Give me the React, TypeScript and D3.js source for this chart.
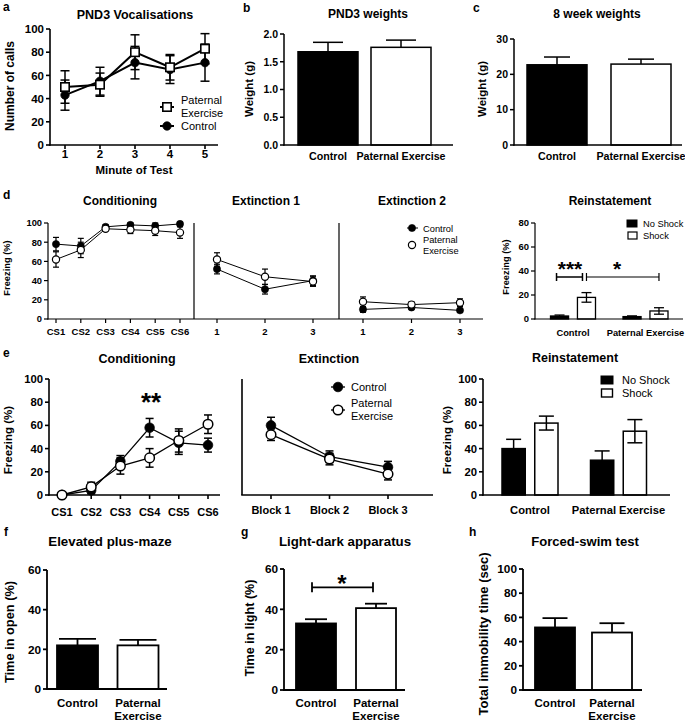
import React from "react";
import * as d3 from "d3";

const FONT = "'Liberation Sans', Arial, Helvetica, sans-serif";

// ---------- DATA ----------
// a: PND3 vocalisations
const minutes = ["1", "2", "3", "4", "5"];
const vocPaternal = [50, 52, 80, 67, 83];
const vocPaternalErr = [14, 10, 15, 11, 13];
const vocControl = [43, 55, 71, 65, 71];
const vocControlErr = [13, 12, 14, 12, 16];
const ticksA = [0, 20, 40, 60, 80, 100];

// groups
const groups2 = ["Control", "Paternal Exercise"];
const shockKeys = ["No Shock", "Shock"];

// b: PND3 weights
const pndWeights = [1.68, 1.76];
const pndWeightsErr = [0.17, 0.13];
const ticksB = [0, 0.5, 1.0, 1.5, 2.0];

// c: 8 week weights
const wk8Weights = [22.7, 22.9];
const wk8WeightsErr = [2.2, 1.4];
const ticksC = [0, 10, 20, 30];

// d: conditioning / extinction 1 / extinction 2
const csLabels = ["CS1", "CS2", "CS3", "CS4", "CS5", "CS6"];
const dCondControl = [78, 76, 96, 98, 97, 99];
const dCondControlErr = [7, 8, 2, 2, 3, 2];
const dCondPaternal = [62, 72, 94, 93, 92, 90];
const dCondPaternalErr = [8, 8, 2, 4, 5, 6];
const extLabels = ["1", "2", "3"];
const dExt1Control = [52, 31, 40];
const dExt1ControlErr = [5, 5, 5];
const dExt1Paternal = [62, 44, 39];
const dExt1PaternalErr = [7, 8, 5];
const dExt2Control = [10, 12, 9];
const dExt2ControlErr = [3, 2, 2];
const dExt2Paternal = [18, 15, 17];
const dExt2PaternalErr = [5, 3, 4];
const ticksD = [0, 20, 40, 60, 80, 100];

// d: reinstatement
const dReinNoShock = [2.5, 2];
const dReinNoShockErr = [0.8, 0.6];
const dReinShock = [18, 6.7];
const dReinShockErr = [4, 2.7];
const ticksDR = [0, 20, 40, 60, 80];

// e: conditioning / extinction
const eCondControl = [0, 4, 29, 58, 45, 43];
const eCondControlErr = [0.5, 3, 5, 8, 10, 6];
const eCondPaternal = [0, 7, 25, 32, 47, 61];
const eCondPaternalErr = [0.5, 4, 7, 8, 10, 8];
const blockLabels = ["Block 1", "Block 2", "Block 3"];
const eExtControl = [60, 33, 24];
const eExtControlErr = [7, 5, 5];
const eExtPaternal = [52, 31, 18];
const eExtPaternalErr = [5, 5, 5];
const ticksE = [0, 20, 40, 60, 80, 100];

// e: reinstatement
const eReinNoShock = [40, 30];
const eReinNoShockErr = [8, 8];
const eReinShock = [62, 55];
const eReinShockErr = [6, 10];

// f, g, h
const epmOpen = [22, 22];
const epmOpenErr = [3.3, 2.8];
const ldLight = [33, 40.6];
const ldLightErr = [2.1, 2.2];
const fstImmobility = [51.7, 47.5];
const fstImmobilityErr = [7.7, 7.7];
const ticks60 = [0, 20, 40, 60];
const ticks100 = [0, 20, 40, 60, 80, 100];

// ---------- HELPERS ----------
type Lin = d3.ScaleLinear<number, number>;

function YAxis({ x, y, ticks, fs, fmt, sw = 1.5, len = 4, labels = true }: any) {
  const [d0, d1] = y.domain();
  const f = fmt || ((v: number) => String(v));
  return (
    <g>
      <line x1={x} x2={x} y1={y(d0) + sw / 2} y2={y(d1)} stroke="#000" strokeWidth={sw} />
      {ticks.map((t: number) => (
        <g key={t}>
          <line x1={x - len} x2={x} y1={y(t)} y2={y(t)} stroke="#000" strokeWidth={sw} />
          {labels && (
            <text x={x - len - 2} y={y(t)} dy="0.36em" textAnchor="end" fontSize={fs} fontWeight="bold">
              {f(t)}
            </text>
          )}
        </g>
      ))}
    </g>
  );
}

function XAxis({ y, x0, x1, pos, labels, fs, labelY, sw = 1.5, len = 4, bold = true, lineGap }: any) {
  const gap = lineGap || fs;
  return (
    <g>
      <line x1={x0 - sw / 2} x2={x1} y1={y} y2={y} stroke="#000" strokeWidth={sw} />
      {pos.map((p: number, i: number) => (
        <g key={i}>
          <line x1={p} x2={p} y1={y} y2={y + len} stroke="#000" strokeWidth={sw} />
          {labels &&
            (Array.isArray(labels[i]) ? labels[i] : [labels[i]]).map((l: string, j: number) => (
              <text key={j} x={p} y={labelY + j * gap} textAnchor="middle" fontSize={fs} fontWeight={bold ? "bold" : "normal"}>
                {l}
              </text>
            ))}
        </g>
      ))}
    </g>
  );
}

function ErrBar({ x, y, v, e, cap, sw = 1.3, lower = true }: any) {
  const top = y(v + e);
  const bot = lower ? y(v - e) : y(v);
  return (
    <g stroke="#000" strokeWidth={sw}>
      <line x1={x} x2={x} y1={top} y2={bot} />
      <line x1={x - cap / 2} x2={x + cap / 2} y1={top} y2={top} />
      {lower && <line x1={x - cap / 2} x2={x + cap / 2} y1={bot} y2={bot} />}
    </g>
  );
}

function Marker({ x, y, kind, r, sw }: any) {
  if (kind === "square")
    return <rect x={x - r} y={y - r} width={2 * r} height={2 * r} fill="#fff" stroke="#000" strokeWidth={sw} />;
  if (kind === "ocircle") return <circle cx={x} cy={y} r={r} fill="#fff" stroke="#000" strokeWidth={sw} />;
  return <circle cx={x} cy={y} r={r} fill="#000" stroke="#000" strokeWidth={sw * 0.5} />;
}

function Series({ xs, y, series, r, sw, msw, cap, esw }: any) {
  return (
    <g>
      {series.map((s: any, k: number) => (
        <g key={"e" + k}>
          {s.values.map((v: number, i: number) => (
            <ErrBar key={i} x={xs[i]} y={y} v={v} e={s.errs[i]} cap={cap} sw={esw} />
          ))}
        </g>
      ))}
      {series.map((s: any, k: number) => (
        <path
          key={"l" + k}
          d={d3.line()(s.values.map((v: number, i: number) => [xs[i], y(v)]) as any) || ""}
          fill="none"
          stroke="#000"
          strokeWidth={sw}
        />
      ))}
      {series.map((s: any, k: number) => (
        <g key={"m" + k}>
          {s.values.map((v: number, i: number) => (
            <Marker key={i} x={xs[i]} y={y(v)} kind={s.kind} r={r} sw={msw} />
          ))}
        </g>
      ))}
    </g>
  );
}

function Bars({ xs, y, values, errs, fills, width, cap, sw = 1.5, lowerFor }: any) {
  return (
    <g>
      {values.map((v: number, i: number) => (
        <g key={i}>
          <rect
            x={xs[i] - width / 2}
            y={y(v)}
            width={width}
            height={y(y.domain()[0]) - y(v)}
            fill={fills[i]}
            stroke="#000"
            strokeWidth={sw}
          />
          <ErrBar x={xs[i]} y={y} v={v} e={errs[i]} cap={cap} sw={sw} lower={lowerFor ? lowerFor[i] : false} />
        </g>
      ))}
    </g>
  );
}

function YTitle({ x, y, text, fs, bold = true }: any) {
  return (
    <text transform={`translate(${x},${y}) rotate(-90)`} textAnchor="middle" fontSize={fs} fontWeight={bold ? "bold" : "normal"}>
      {text}
    </text>
  );
}

function Title({ x, y, text, fs }: any) {
  return (
    <text x={x} y={y} textAnchor="middle" fontSize={fs} fontWeight="bold">
      {text}
    </text>
  );
}

function Letter({ x, y, t }: any) {
  return (
    <text x={x} y={y} fontSize={12} fontWeight="bold">
      {t}
    </text>
  );
}

function SigBar({ x1, x2, y, sw = 1.5, tick = 4 }: any) {
  return (
    <g stroke="#000" strokeWidth={sw}>
      <line x1={x1} x2={x2} y1={y} y2={y} />
      <line x1={x1} x2={x1} y1={y - tick} y2={y + tick} />
      <line x1={x2} x2={x2} y1={y - tick} y2={y + tick} />
    </g>
  );
}

// ---------- PANELS ----------
function PanelA() {
  const y: Lin = d3.scaleLinear().domain([0, 100]).range([145, 29]);
  const x = d3.scalePoint().domain(minutes).range([65, 205]);
  const xs = minutes.map((m) => x(m) as number);
  return (
    <g>
      <Letter x={3} y={11} t="a" />
      <Title x={135} y={19} text="PND3 Vocalisations" fs={12.5} />
      <YAxis x={50} y={y} ticks={ticksA} fs={11.5} sw={1.6} len={4} />
      <XAxis y={145} x0={50} x1={218} pos={xs} labels={minutes} fs={11.5} labelY={158} sw={1.6} />
      <text x={134} y={174} textAnchor="middle" fontSize={11.5} fontWeight="bold">Minute of Test</text>
      <YTitle x={14} y={86} text="Number of calls" fs={12} />
      <Series
        xs={xs}
        y={y}
        r={4.2}
        sw={2}
        msw={1.6}
        cap={9}
        esw={1.5}
        series={[
          { values: vocControl, errs: vocControlErr, kind: "circle" },
          { values: vocPaternal, errs: vocPaternalErr, kind: "square" },
        ]}
      />
      {/* legend */}
      <line x1={160} x2={174} y1={107} y2={107} stroke="#000" strokeWidth={2} />
      <Marker x={167} y={107} kind="square" r={4.2} sw={1.6} />
      <line x1={160} x2={174} y1={126} y2={126} stroke="#000" strokeWidth={2} />
      <Marker x={167} y={126} kind="circle" r={4.2} sw={1.6} />
      <text x={181} y={104} fontSize={11}>Paternal</text>
      <text x={181} y={117} fontSize={11}>Exercise</text>
      <text x={181} y={130} fontSize={11}>Control</text>
    </g>
  );
}

function PanelB() {
  const y: Lin = d3.scaleLinear().domain([0, 2]).range([145, 34]);
  const x = d3.scalePoint().domain(groups2).range([328, 401]);
  const xs = groups2.map((g) => x(g) as number);
  return (
    <g>
      <Letter x={243} y={12} t="b" />
      <Title x={368} y={18} text="PND3 weights" fs={12} />
      <Bars xs={xs} y={y} values={pndWeights} errs={pndWeightsErr} fills={["#000", "#fff"]} width={60} cap={30} sw={1.5} />
      <YAxis x={284} y={y} ticks={ticksB} fs={10.5} fmt={d3.format(".1f")} sw={1.5} len={4} />
      <XAxis y={145} x0={284} x1={453} pos={xs} labels={groups2} fs={10.7} labelY={160} sw={1.5} len={0} />
      <YTitle x={253} y={89} text="Weight (g)" fs={11.5} />
    </g>
  );
}

function PanelC() {
  const y: Lin = d3.scaleLinear().domain([0, 30]).range([145, 39]);
  const x = d3.scalePoint().domain(groups2).range([557, 641]);
  const xs = groups2.map((g) => x(g) as number);
  return (
    <g>
      <Letter x={473} y={12} t="c" />
      <Title x={597} y={18} text="8 week weights" fs={12} />
      <Bars xs={xs} y={y} values={wk8Weights} errs={wk8WeightsErr} fills={["#000", "#fff"]} width={60} cap={26} sw={1.5} />
      <YAxis x={514} y={y} ticks={ticksC} fs={10.5} sw={1.5} len={4} />
      <XAxis y={145} x0={514} x1={682} pos={xs} labels={groups2} fs={10.7} labelY={160} sw={1.5} len={0} />
      <YTitle x={486} y={89} text="Weight (g)" fs={11.5} />
    </g>
  );
}

function PanelD() {
  const y: Lin = d3.scaleLinear().domain([0, 100]).range([319, 223]);
  const xc = d3.scalePoint().domain(csLabels).range([56, 180]);
  const x1 = d3.scalePoint().domain(extLabels).range([217, 313]);
  const x2 = d3.scalePoint().domain(extLabels).range([363, 460]);
  const xsC = csLabels.map((c) => xc(c) as number);
  const xs1 = extLabels.map((c) => x1(c) as number);
  const xs2 = extLabels.map((c) => x2(c) as number);
  const common = { y, r: 3.6, sw: 1, msw: 1.2, cap: 6, esw: 1.2 };
  return (
    <g>
      <Letter x={3} y={199} t="d" />
      <Title x={120} y={205} text="Conditioning" fs={12} />
      <Title x={266} y={205} text="Extinction 1" fs={12} />
      <Title x={412} y={205} text="Extinction 2" fs={12} />
      <YAxis x={48} y={y} ticks={ticksD} fs={9.3} sw={1.2} len={4} />
      <XAxis y={319} x0={48} x1={483} pos={[...xsC, ...xs1, ...xs2]} labels={[...csLabels, ...extLabels, ...extLabels]} fs={9.5} labelY={335} sw={1.2} len={4} />
      <line x1={194} x2={194} y1={223} y2={319} stroke="#000" strokeWidth={1.2} />
      <line x1={339} x2={339} y1={223} y2={319} stroke="#000" strokeWidth={1.2} />
      <YTitle x={10} y={268} text="Freezing (%)" fs={9.3} />
      <Series xs={xsC} {...common} series={[
        { values: dCondControl, errs: dCondControlErr, kind: "circle" },
        { values: dCondPaternal, errs: dCondPaternalErr, kind: "ocircle" },
      ]} />
      <Series xs={xs1} {...common} series={[
        { values: dExt1Control, errs: dExt1ControlErr, kind: "circle" },
        { values: dExt1Paternal, errs: dExt1PaternalErr, kind: "ocircle" },
      ]} />
      <Series xs={xs2} {...common} series={[
        { values: dExt2Control, errs: dExt2ControlErr, kind: "circle" },
        { values: dExt2Paternal, errs: dExt2PaternalErr, kind: "ocircle" },
      ]} />
      {/* legend */}
      <line x1={407} x2={418} y1={228} y2={228} stroke="#000" strokeWidth={1} />
      <Marker x={412} y={228} kind="circle" r={3.6} sw={1.2} />
      <Marker x={412} y={245} kind="ocircle" r={3.6} sw={1.2} />
      <text x={423} y={231.5} fontSize={9.3}>Control</text>
      <text x={423} y={243} fontSize={9.3}>Paternal</text>
      <text x={423} y={254} fontSize={9.3}>Exercise</text>
    </g>
  );
}

function PanelDR() {
  const y: Lin = d3.scaleLinear().domain([0, 80]).range([319, 223]);
  const xg = d3.scalePoint().domain(groups2).range([573, 645.5]);
  const xk = d3.scaleBand().domain(shockKeys).range([-22.5, 22.5]).paddingInner(0.33);
  const bw = xk.bandwidth();
  const cx = (g: string, k: string) => (xg(g) as number) + (xk(k) as number) + bw / 2;
  const xsNo = groups2.map((g) => cx(g, "No Shock"));
  const xsSh = groups2.map((g) => cx(g, "Shock"));
  const gpos = groups2.map((g) => xg(g) as number);
  return (
    <g>
      <Title x={610} y={205} text="Reinstatement" fs={12} />
      <Bars xs={xsNo} y={y} values={dReinNoShock} errs={dReinNoShockErr} fills={["#000", "#000"]} width={bw} cap={10} sw={1.3} lowerFor={[true, true]} />
      <Bars xs={xsSh} y={y} values={dReinShock} errs={dReinShockErr} fills={["#fff", "#fff"]} width={bw} cap={10} sw={1.3} lowerFor={[true, true]} />
      <YAxis x={535} y={y} ticks={ticksDR} fs={9.5} sw={1.2} len={4} />
      <XAxis y={319} x0={535} x1={683} pos={gpos} labels={groups2} fs={9.3} labelY={336} sw={1.2} len={0} />
      <YTitle x={509} y={267} text="Freezing (%)" fs={9.3} />
      <SigBar x1={xsNo[0] - 3} x2={xsSh[0] - 4} y={y(35)} sw={1.5} tick={4} />
      <SigBar x1={xsSh[0]} x2={xsSh[1]} y={y(35)} sw={1.2} tick={4} />
      <text x={(xsNo[0] + xsSh[0]) / 2 - 3} y={275.5} textAnchor="middle" fontSize={21} fontWeight="bold">***</text>
      <text x={617} y={275.5} textAnchor="middle" fontSize={21} fontWeight="bold">*</text>
      {/* legend */}
      <rect x={627} y={220} width={10} height={7} fill="#000" stroke="#000" strokeWidth={1} />
      <rect x={628} y={232} width={9} height={7} fill="#fff" stroke="#000" strokeWidth={1.2} />
      <text x={643} y={227} fontSize={9.3}>No Shock</text>
      <text x={643} y={239} fontSize={9.3}>Shock</text>
    </g>
  );
}

function PanelE() {
  const y: Lin = d3.scaleLinear().domain([0, 100]).range([495, 379]);
  const xc = d3.scalePoint().domain(csLabels).range([62, 208]);
  const xb = d3.scalePoint().domain(blockLabels).range([271, 388]);
  const xsC = csLabels.map((c) => xc(c) as number);
  const xsB = blockLabels.map((c) => xb(c) as number);
  const common = { y, r: 4.8, sw: 1.3, msw: 1.5, cap: 8, esw: 1.5 };
  return (
    <g>
      <Letter x={3} y={357} t="e" />
      <Title x={137} y={363} text="Conditioning" fs={12.5} />
      <Title x={329} y={363} text="Extinction" fs={12.5} />
      <YAxis x={49} y={y} ticks={ticksE} fs={11.3} sw={1.6} len={4} />
      <XAxis y={495} x0={49} x1={220} pos={xsC} labels={csLabels} fs={11} labelY={516} sw={1.6} len={4} />
      <YTitle x={12} y={440} text="Freezing (%)" fs={11.5} />
      <Series xs={xsC} {...common} series={[
        { values: eCondControl, errs: eCondControlErr, kind: "circle" },
        { values: eCondPaternal, errs: eCondPaternalErr, kind: "ocircle" },
      ]} />
      <text x={151} y={411} textAnchor="middle" fontSize={26} fontWeight="bold">**</text>

      <line x1={242} x2={242} y1={379} y2={495} stroke="#000" strokeWidth={1.6} />
      <XAxis y={495} x0={242} x1={433} pos={xsB} labels={blockLabels} fs={11} labelY={514} sw={1.6} len={4} />
      <Series xs={xsB} {...common} series={[
        { values: eExtControl, errs: eExtControlErr, kind: "circle" },
        { values: eExtPaternal, errs: eExtPaternalErr, kind: "ocircle" },
      ]} />
      {/* legend */}
      <line x1={331} x2={345} y1={387} y2={387} stroke="#000" strokeWidth={1.3} />
      <Marker x={338} y={387} kind="circle" r={4.8} sw={1.5} />
      <line x1={331} x2={345} y1={410} y2={410} stroke="#000" strokeWidth={1.3} />
      <Marker x={338} y={410} kind="ocircle" r={4.8} sw={1.5} />
      <text x={351} y={391} fontSize={11}>Control</text>
      <text x={351} y={407} fontSize={11}>Paternal</text>
      <text x={351} y={420} fontSize={11}>Exercise</text>
    </g>
  );
}

function PanelER() {
  const y: Lin = d3.scaleLinear().domain([0, 100]).range([495, 379]);
  const xg = d3.scalePoint().domain(groups2).range([530, 618.5]);
  const xk = d3.scaleBand().domain(shockKeys).range([-28, 28]).paddingInner(0.29);
  const bw = xk.bandwidth();
  const cx = (g: string, k: string) => (xg(g) as number) + (xk(k) as number) + bw / 2;
  const xsNo = groups2.map((g) => cx(g, "No Shock"));
  const xsSh = groups2.map((g) => cx(g, "Shock"));
  const gpos = groups2.map((g) => xg(g) as number);
  return (
    <g>
      <Title x={575} y={362} text="Reinstatement" fs={12.5} />
      <Bars xs={xsNo} y={y} values={eReinNoShock} errs={eReinNoShockErr} fills={["#000", "#000"]} width={bw} cap={15} sw={1.5} lowerFor={[true, true]} />
      <Bars xs={xsSh} y={y} values={eReinShock} errs={eReinShockErr} fills={["#fff", "#fff"]} width={bw} cap={15} sw={1.5} lowerFor={[true, true]} />
      <YAxis x={483} y={y} ticks={ticksE} fs={11.3} sw={1.6} len={4} />
      <XAxis y={495} x0={483} x1={670} pos={gpos} labels={groups2} fs={11.2} labelY={514} sw={1.6} len={0} />
      <YTitle x={451} y={440} text="Freezing (%)" fs={11.5} />
      {/* legend */}
      <rect x={601} y={376} width={12} height={8} fill="#000" stroke="#000" strokeWidth={1} />
      <rect x={601.5} y={389} width={11} height={8} fill="#fff" stroke="#000" strokeWidth={1.4} />
      <text x={622} y={384} fontSize={11}>No Shock</text>
      <text x={622} y={397} fontSize={11}>Shock</text>
    </g>
  );
}

const twoLine = [["Control"], ["Paternal", "Exercise"]];

function PanelF() {
  const y: Lin = d3.scaleLinear().domain([0, 60]).range([689, 570]);
  const x = d3.scalePoint().domain(groups2).range([77.5, 138]);
  const xs = groups2.map((g) => x(g) as number);
  return (
    <g>
      <Letter x={4} y={536} t="f" />
      <Title x={110} y={546} text="Elevated plus-maze" fs={13.3} />
      <Bars xs={xs} y={y} values={epmOpen} errs={epmOpenErr} fills={["#000", "#fff"]} width={41} cap={37} sw={1.8} />
      <YAxis x={47} y={y} ticks={ticks60} fs={11.8} sw={1.8} len={4} />
      <XAxis y={689} x0={47} x1={167} pos={xs} labels={twoLine} fs={11.5} lineGap={12.5} labelY={707} sw={1.8} len={0} />
      <YTitle x={14} y={632} text="Time in open (%)" fs={12.8} />
    </g>
  );
}

function PanelG() {
  const y: Lin = d3.scaleLinear().domain([0, 60]).range([690, 569]);
  const x = d3.scalePoint().domain(groups2).range([316, 376]);
  const xs = groups2.map((g) => x(g) as number);
  return (
    <g>
      <Letter x={241} y={536} t="g" />
      <Title x={345} y={546} text="Light-dark apparatus" fs={13.3} />
      <Bars xs={xs} y={y} values={ldLight} errs={ldLightErr} fills={["#000", "#fff"]} width={40} cap={22} sw={1.8} />
      <YAxis x={284} y={y} ticks={ticks60} fs={11.8} sw={1.8} len={4} />
      <XAxis y={690} x0={284} x1={405} pos={xs} labels={twoLine} fs={11.5} lineGap={12.5} labelY={707} sw={1.8} len={0} />
      <YTitle x={254} y={628} text="Time in light (%)" fs={12.6} />
      <SigBar x1={xs[0] - 4} x2={xs[1] - 3} y={y(50.9)} sw={1.8} tick={5} />
      <text x={342} y={592} textAnchor="middle" fontSize={24} fontWeight="bold">*</text>
    </g>
  );
}

function PanelH() {
  const y: Lin = d3.scaleLinear().domain([0, 100]).range([690, 569]);
  const x = d3.scalePoint().domain(groups2).range([555, 612]);
  const xs = groups2.map((g) => x(g) as number);
  return (
    <g>
      <Letter x={469} y={536} t="h" />
      <Title x={585} y={546} text="Forced-swim test" fs={13.1} />
      <Bars xs={xs} y={y} values={fstImmobility} errs={fstImmobilityErr} fills={["#000", "#fff"]} width={40} cap={25} sw={1.8} />
      <YAxis x={523} y={y} ticks={ticks100} fs={11.8} sw={1.8} len={4} />
      <XAxis y={690} x0={523} x1={642} pos={xs} labels={twoLine} fs={11.5} lineGap={12.5} labelY={707} sw={1.8} len={0} />
      <YTitle x={488} y={634} text="Total immobility time (sec)" fs={13} />
    </g>
  );
}

export default function App() {
  return (
    <svg
      width={685}
      height={722}
      viewBox="0 0 685 722"
      style={{ position: "absolute", left: 0, top: 0, display: "block" }}
      fontFamily={FONT}
    >
      <rect x={0} y={0} width={685} height={722} fill="#fff" />
      <PanelA />
      <PanelB />
      <PanelC />
      <PanelD />
      <PanelDR />
      <PanelE />
      <PanelER />
      <PanelF />
      <PanelG />
      <PanelH />
    </svg>
  );
}
